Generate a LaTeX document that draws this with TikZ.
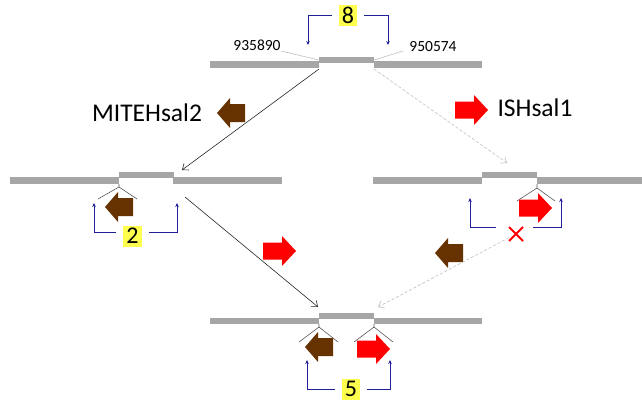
\documentclass[tikz,border=0pt]{standalone}
\usepackage{fontspec}
\setmainfont{Carlito}
\usetikzlibrary{arrows.meta,shapes.misc}
\definecolor{barg}{HTML}{A6A6A6}
\definecolor{brn}{HTML}{663300}
\definecolor{navy}{HTML}{1F1F99}
\definecolor{hl}{HTML}{FFFF4D}
\tikzset{
  bar/.style={fill=barg, draw=none},
  seg/.style={rectangle, fill=barg, inner sep=0pt, minimum width=55pt, minimum height=6.5pt},
  numbox/.style={fill=hl, inner xsep=3pt, inner ysep=0pt, minimum height=21pt, font=\fontsize{24}{24}\selectfont, outer xsep=7pt},
  blu/.style={draw=navy, line width=1pt, -{Stealth[length=4pt,width=3.5pt]}},
  lbl/.style={draw=black!25, line width=0.6pt},
  mk/.style={draw=black!65, line width=0.6pt},
  conn/.style={draw=black!85, line width=0.6pt, -{Straight Barb[length=5pt,width=8pt]}},
  dconn/.style={draw=black!25, line width=0.6pt, dash pattern=on 3pt off 2pt, -{Straight Barb[length=5pt,width=8pt]}},
  bigtxt/.style={font=\fontsize{25.5}{30}\selectfont},
  postxt/.style={font=\fontsize{15.5}{18}\selectfont},
  xmark/.style={cross out, draw=red, line width=2pt, minimum size=12pt, inner sep=0pt},
  redarr/.pic={\fill[red] (0,-8.5) -- (19,-8.5) -- (19,-15) -- (33,0) -- (19,15) -- (19,8.5) -- (0,8.5) -- cycle;},
  brnarr/.pic={\fill[brn] (0,-9) -- (-15,-9) -- (-15,-15) -- (-28,0) -- (-15,15) -- (-15,9) -- (0,9) -- cycle;}
}
\begin{document}
\begin{tikzpicture}[x=1pt,y=-1pt]
\useasboundingbox (0,0) rectangle (642,402);

% ---------- top locus ----------
\fill[bar] (210,61) rectangle (319,68);
\fill[bar] (374,61) rectangle (482,68);
\node[seg] (tseg) at (346.5,60) {};
\node[postxt] (p1) at (257,45) {935890};
\node[postxt] (p2) at (433,47) {950574};
\coordinate (p1e) at (281,51);
\coordinate (p2w) at (403,51);
\draw[lbl] (p1e) -- (tseg.west);
\draw[lbl] (p2w) -- (tseg.east);
\node[numbox] (n8) at (348,15.5) {8};
\coordinate (t8l) at (308,45);
\coordinate (t8r) at (388,45);
\draw[blu] (n8.west) -| (t8l);
\draw[blu] (n8.east) -| (t8r);

% labels with arrows
\node[bigtxt] (mite) at (147,113) {MITEHsal2};
\pic at (245,113) {brnarr};
\node[bigtxt] (ish) at (535,108) {ISHsal1};
\pic at (455,110) {redarr};

% ---------- middle left ----------
\fill[bar] (10,177) rectangle (119,184);
\fill[bar] (173,177) rectangle (282,184);
\node[seg] (lseg) at (146,175) {};
\coordinate (lv) at (119,187);
\coordinate (lva) at (98,199);
\coordinate (lvb) at (137,199);
\draw[mk] (119,184) -- (lv) -- (lva);
\draw[mk] (lv) -- (lvb);
\pic at (133,207) {brnarr};
\node[numbox] (n2) at (132.5,236) {2};
\coordinate (l2l) at (94,203);
\coordinate (l2r) at (177,203);
\draw[blu] ([yshift=4pt]n2.west) -| (l2l);
\draw[blu] ([yshift=4pt]n2.east) -| (l2r);

% ---------- middle right ----------
\fill[bar] (373,177) rectangle (482,184);
\fill[bar] (537,177) rectangle (642,184);
\node[seg] (rseg) at (509.5,175) {};
\coordinate (rv) at (537,188);
\coordinate (rva) at (517,201);
\coordinate (rvb) at (555,201);
\draw[mk] (537,184) -- (rv) -- (rva);
\draw[mk] (rv) -- (rvb);
\pic at (519,208) {redarr};
\node[xmark] (xm) at (516,234) {};
\coordinate (x1) at (496,227);
\coordinate (x2) at (533,227);
\coordinate (r2l) at (470,198);
\coordinate (r2r) at (561,198);
\draw[blu] (x1) -| (r2l);
\draw[blu] (x2) -| (r2r);

% ---------- middle arrows ----------
\pic at (263,251) {redarr};
\pic at (463,253) {brnarr};

% ---------- bottom locus ----------
\fill[bar] (210,318) rectangle (319,324);
\fill[bar] (374,318) rectangle (482,324);
\node[seg] (bseg) at (346.5,316) {};
\coordinate (bl) at (319,327);
\coordinate (bla) at (299,342);
\coordinate (blb) at (338,342);
\coordinate (br) at (374,327);
\coordinate (bra) at (354,342);
\coordinate (brb) at (393,342);
\draw[mk] (319,324) -- (bl) -- (bla);
\draw[mk] (bl) -- (blb);
\draw[mk] (374,324) -- (br) -- (bra);
\draw[mk] (br) -- (brb);
\pic at (333,347) {brnarr};
\pic at (357,349) {redarr};
\node[numbox] (n5) at (351,389) {5};
\coordinate (b5l) at (307,360);
\coordinate (b5r) at (390,360);
\draw[blu] (n5.west) -| (b5l);
\draw[blu] (n5.east) -| (b5r);

% ---------- connectors ----------
\coordinate (c1s) at (319,69);
\coordinate (c1e) at (182,170);
\coordinate (c2s) at (374,69);
\coordinate (c2e) at (507,163);
\coordinate (c3s) at (185,197);
\coordinate (c3e) at (318,307);
\coordinate (c4e) at (378,307);
\draw[conn] (c1s) -- (c1e);
\draw[dconn] (c2s) -- (c2e);
\draw[conn] (c3s) -- (c3e);
\draw[dconn] (xm) -- (c4e);
\end{tikzpicture}
\end{document}
